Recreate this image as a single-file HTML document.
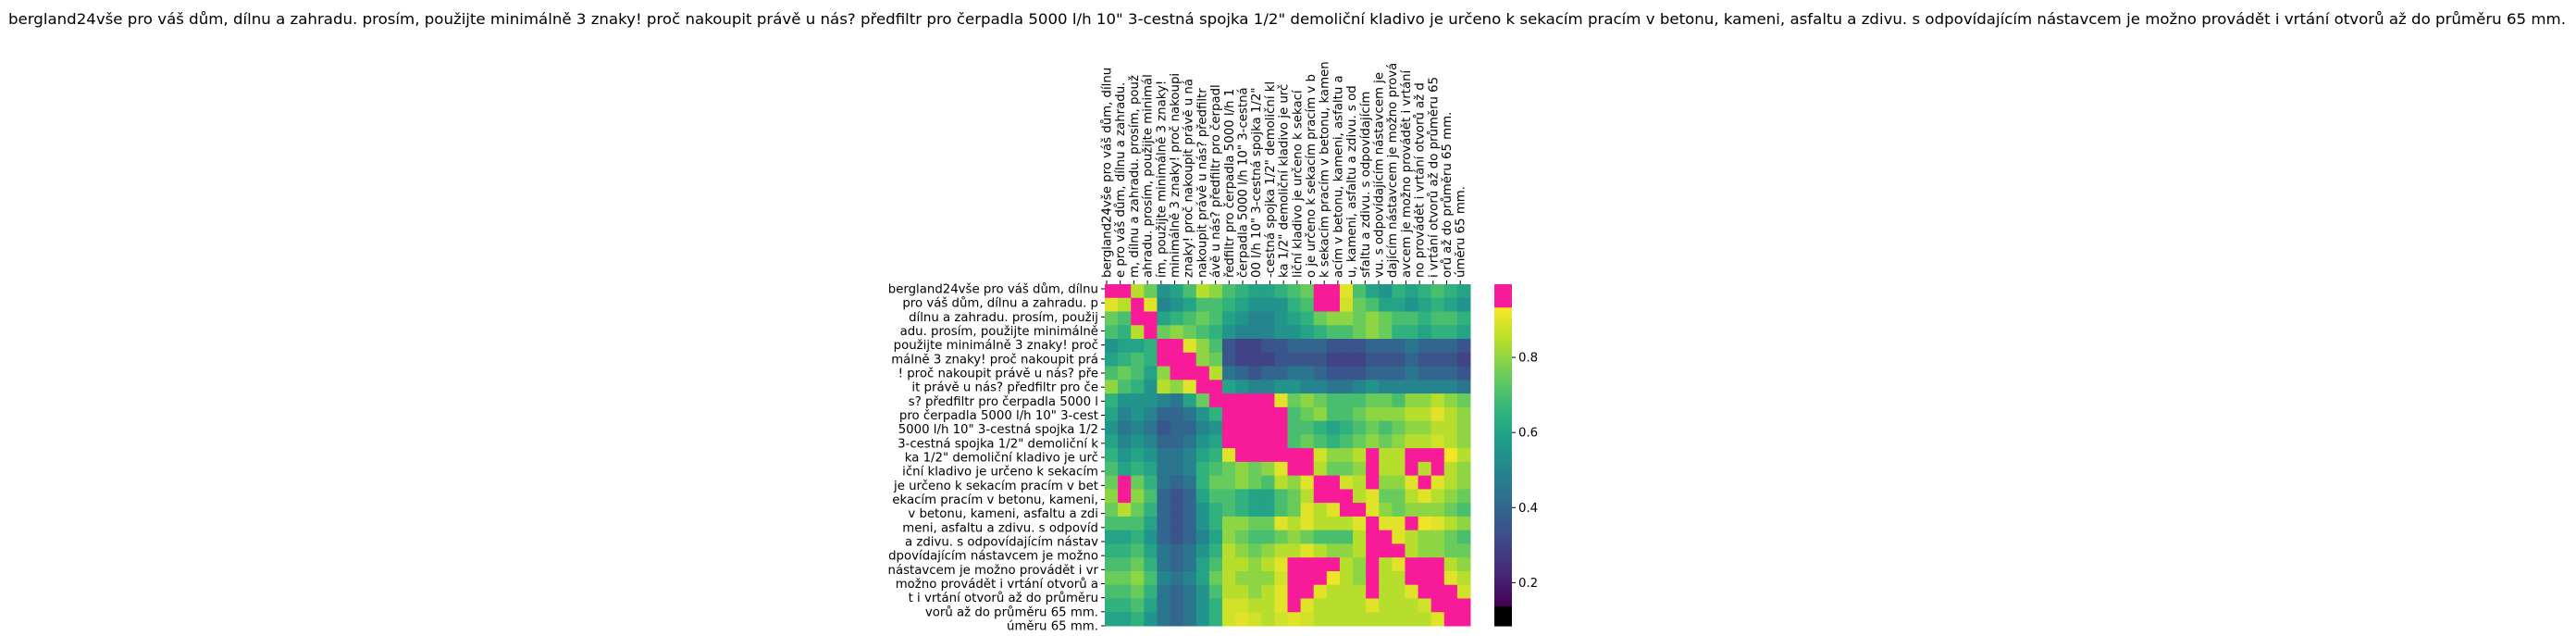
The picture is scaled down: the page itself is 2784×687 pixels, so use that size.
<!DOCTYPE html>
<html><head><meta charset="utf-8"><style>
html,body{margin:0;padding:0;background:#fff;}
svg{display:block;font-family:"DejaVu Sans","Liberation Sans",sans-serif;}
</style></head><body>
<svg id="chart" width="2784" height="687" viewBox="0 0 2784 687" xmlns="http://www.w3.org/2000/svg">
<text x="9" y="26" font-size="16" textLength="2764" lengthAdjust="spacingAndGlyphs">bergland24vše pro váš dům, dílnu a zahradu. prosím, použijte minimálně 3 znaky! proč nakoupit právě u nás? předfiltr pro čerpadla 5000 l/h 10" 3-cestná spojka 1/2" demoliční kladivo je určeno k sekacím pracím v betonu, kameni, asfaltu a zdivu. s odpovídajícím nástavcem je možno provádět i vrtání otvorů až do průměru 65 mm.</text>
<g id="cells"></g>
<g id="rowlabels"></g>
<g id="collabels"></g>
<g id="cbar"></g>
</svg>
<script>
const rowLabels = ["bergland24vše pro váš dům, dílnu","pro váš dům, dílnu a zahradu. p","dílnu a zahradu. prosím, použij","adu. prosím, použijte minimálně ","použijte minimálně 3 znaky! proč","málně 3 znaky! proč nakoupit prá","! proč nakoupit právě u nás? pře","it právě u nás? předfiltr pro če","s? předfiltr pro čerpadla 5000 l","pro čerpadla 5000 l/h 10\" 3-cest","5000 l/h 10\" 3-cestná spojka 1/2","3-cestná spojka 1/2\" demoliční k","ka 1/2\" demoliční kladivo je urč","iční kladivo je určeno k sekacím","je určeno k sekacím pracím v bet","ekacím pracím v betonu, kameni, ","v betonu, kameni, asfaltu a zdi","meni, asfaltu a zdivu. s odpovíd","a zdivu. s odpovídajícím nástav","dpovídajícím nástavcem je možno ","nástavcem je možno provádět i vr","možno provádět i vrtání otvorů a","t i vrtání otvorů až do průměru ","vorů až do průměru 65 mm.      ","úměru 65 mm.             "];
const colLabels = ["bergland24vše pro váš dům, dílnu","e pro váš dům, dílnu a zahradu.","m, dílnu a zahradu. prosím, použ","ahradu. prosím, použijte minimál","ím, použijte minimálně 3 znaky!","minimálně 3 znaky! proč nakoupi","znaky! proč nakoupit právě u ná","nakoupit právě u nás? předfiltr","ávě u nás? předfiltr pro čerpadl","ředfiltr pro čerpadla 5000 l/h 1","čerpadla 5000 l/h 10\" 3-cestná","00 l/h 10\" 3-cestná spojka 1/2\"","-cestná spojka 1/2\" demoliční kl","ka 1/2\" demoliční kladivo je urč","liční kladivo je určeno k sekací","o je určeno k sekacím pracím v b","k sekacím pracím v betonu, kamen","acím v betonu, kameni, asfaltu a","u, kameni, asfaltu a zdivu. s od","sfaltu a zdivu. s odpovídajícím","vu. s odpovídajícím nástavcem je","dajícím nástavcem je možno prová","avcem je možno provádět i vrtání","no provádět i vrtání otvorů až d","i vrtání otvorů až do průměru 65","orů až do průměru 65 mm.","úměru 65 mm."];
const cbTicks = [0.2,0.4,0.6,0.8];
const m0=[.97,.97,.85,.75,.55,.6,.7,.85,.8,.7,.65,.6,.6,.65,.7,.75,.95,.96,.9,.7,.6,.55,.65,.6,.65,.7,.65,.6];
const m1=[.9,.85,.97,.9,.5,.55,.6,.7,.7,.65,.6,.55,.55,.55,.65,.7,.95,.96,.88,.75,.7,.6,.6,.55,.6,.65,.6,.55];
const m2=[.75,.7,.97,.97,.6,.65,.7,.75,.7,.6,.55,.5,.5,.55,.6,.65,.75,.8,.8,.75,.8,.75,.7,.7,.65,.7,.7,.65];
const m3=[.7,.65,.85,.97,.75,.8,.75,.7,.65,.55,.5,.5,.5,.55,.55,.6,.65,.7,.7,.75,.8,.75,.65,.65,.6,.65,.65,.6];
const m4=[.55,.6,.6,.65,.97,.97,.9,.8,.7,.35,.3,.3,.35,.35,.4,.4,.4,.35,.35,.35,.4,.4,.4,.45,.4,.4,.4,.35];
const m5=[.6,.65,.7,.65,.95,.97,.97,.8,.75,.35,.3,.3,.3,.35,.35,.35,.35,.3,.3,.3,.35,.35,.35,.4,.35,.35,.35,.3];
const m6=[.7,.75,.7,.6,.8,.95,.97,.97,.85,.45,.4,.35,.4,.4,.45,.45,.4,.35,.35,.35,.4,.4,.4,.45,.4,.4,.4,.35];
const m7=[.8,.7,.65,.55,.85,.8,.9,.97,.97,.6,.55,.5,.5,.55,.55,.5,.5,.45,.45,.5,.55,.5,.5,.5,.5,.5,.5,.45];
const m8=[.65,.55,.55,.55,.5,.45,.6,.75,.95,.97,.97,.97,.97,.9,.75,.8,.75,.7,.7,.7,.75,.75,.7,.8,.8,.85,.8,.75];
const m9=[.6,.5,.55,.5,.4,.4,.45,.55,.65,.97,.97,.97,.97,.97,.7,.75,.8,.7,.7,.75,.8,.8,.8,.85,.85,.9,.85,.8];
const m10=[.55,.45,.5,.45,.35,.4,.4,.5,.55,.97,.97,.97,.97,.97,.7,.7,.65,.6,.65,.7,.75,.7,.75,.8,.8,.85,.85,.8];
const m11=[.6,.5,.55,.5,.4,.4,.45,.55,.6,.95,.97,.97,.97,.97,.7,.75,.7,.65,.7,.75,.8,.75,.8,.85,.85,.88,.85,.8];
const m12=[.65,.55,.6,.55,.45,.45,.5,.6,.65,.9,.97,.97,.97,.97,.97,.95,.88,.8,.8,.85,.95,.85,.85,.95,.95,.95,.92,.85];
const m13=[.7,.6,.65,.6,.45,.45,.5,.65,.7,.75,.8,.75,.8,.9,.95,.97,.85,.75,.75,.8,.95,.85,.85,.95,.85,.95,.85,.8];
const m14=[.75,.97,.75,.65,.45,.4,.45,.65,.75,.75,.8,.75,.7,.85,.8,.9,.97,.95,.88,.85,.95,.8,.8,.9,.97,.9,.85,.8];
const m15=[.8,.95,.8,.7,.4,.35,.4,.6,.7,.7,.65,.6,.6,.7,.75,.85,.95,.97,.97,.85,.9,.75,.75,.85,.9,.85,.8,.75];
const m16=[.75,.85,.75,.65,.4,.35,.4,.55,.65,.7,.65,.6,.6,.7,.75,.9,.85,.9,.97,.95,.9,.8,.75,.8,.8,.8,.75,.7];
const m17=[.7,.7,.7,.6,.4,.35,.4,.55,.65,.8,.8,.75,.75,.9,.85,.9,.85,.85,.85,.9,.95,.9,.9,.95,.92,.9,.85,.8];
const m18=[.6,.6,.65,.55,.4,.35,.4,.5,.6,.8,.75,.7,.7,.75,.8,.75,.7,.7,.7,.85,.97,.97,.9,.85,.8,.8,.75,.7];
const m19=[.65,.65,.7,.6,.45,.4,.45,.55,.65,.85,.8,.75,.8,.85,.85,.9,.85,.8,.8,.85,.97,.95,.97,.85,.8,.8,.75,.75];
const m20=[.7,.7,.75,.65,.45,.4,.45,.6,.7,.85,.85,.8,.85,.9,.95,.97,.97,.95,.85,.8,.95,.85,.9,.97,.97,.95,.85,.8];
const m21=[.75,.75,.8,.7,.5,.45,.5,.6,.75,.85,.8,.8,.8,.88,.95,.95,.97,.92,.85,.8,.95,.85,.85,.97,.97,.97,.9,.85];
const m22=[.7,.7,.75,.65,.45,.4,.45,.55,.7,.85,.85,.8,.85,.9,.95,.97,.9,.85,.85,.85,.95,.85,.85,.9,.97,.97,.97,.88];
const m23=[.65,.65,.7,.6,.45,.4,.45,.55,.65,.88,.88,.85,.85,.9,.95,.9,.85,.85,.85,.85,.9,.85,.85,.85,.88,.95,.97,.97];
const m24=[.6,.6,.65,.55,.45,.4,.45,.55,.65,.88,.9,.88,.85,.88,.9,.88,.85,.85,.85,.85,.85,.85,.85,.85,.85,.9,.95,.97];
const matrix=[m0,m1,m2,m3,m4,m5,m6,m7,m8,m9,m10,m11,m12,m13,m14,m15,m16,m17,m18,m19,m20,m21,m22,m23,m24];

const NS="http://www.w3.org/2000/svg";
const X0=1194,X1=1589,Y0=307,Y1=676;
const VMIN=0.14,VMAX=0.935,CBMIN=0.085,CBMAX=0.995;
const VIR=[[68,1,84],[72,40,120],[62,74,137],[49,104,142],[38,130,142],[31,158,137],[53,183,121],[109,205,89],[180,222,44],[253,231,37]];
function color(v){
  if(v>VMAX) return "#f71b9a";
  if(v<VMIN) return "#000000";
  let t=(v-VMIN)/(VMAX-VMIN)*(VIR.length-1);
  let i=Math.min(Math.floor(t),VIR.length-2),f=t-i;
  const c=VIR[i].map((a,k)=>Math.round(a+(VIR[i+1][k]-a)*f));
  return `rgb(${c[0]},${c[1]},${c[2]})`;
}
function mk(tag,attrs,parent){const e=document.createElementNS(NS,tag);for(const k in attrs)e.setAttribute(k,attrs[k]);parent.appendChild(e);return e;}
const nR=matrix.length,nC=matrix[0].length;
const xs=j=>X0+j*(X1-X0)/nC, ys=i=>Y0+i*(Y1-Y0)/nR;
const cells=document.getElementById('cells');
matrix.forEach((row,i)=>row.forEach((v,j)=>{
  const r=mk('rect',{x:xs(j),y:ys(i),width:(X1-X0)/nC+0.5,height:(Y1-Y0)/nR+0.5,fill:color(v)},cells);
  
  
}));
const rl=document.getElementById('rowlabels');
const rStep=(Y1-Y0-5)/(rowLabels.length-1);
rowLabels.forEach((t,i)=>{
  const y=Y0+5+i*rStep;
  mk('line',{x1:X0-4,x2:X0,y1:y,y2:y,stroke:'#000','stroke-width':1},rl);
  const e=mk('text',{x:X0-7,y:y+4.5,'font-size':13.3,'text-anchor':'end','xml:space':'preserve'},rl);
  e.textContent=t;
  
  
});
const cl=document.getElementById('collabels');
const cStep=14.7;
colLabels.forEach((t,j)=>{
  const x=X0+2+j*cStep;
  mk('line',{x1:x,x2:x,y1:Y0-4,y2:Y0,stroke:'#000','stroke-width':1},cl);
  const e=mk('text',{x:0,y:0,'font-size':13.3,transform:`translate(${x+4.5},${Y0-7}) rotate(-90)`},cl);
  e.textContent=t;
  
  
});
const cb=document.getElementById('cbar');
const CX=1615,CW=19;
const cy=v=>Y1-(v-CBMIN)/(CBMAX-CBMIN)*(Y1-Y0);
const N=120;
for(let k=0;k<N;k++){
  const v0=CBMIN+(CBMAX-CBMIN)*k/N,v1=CBMIN+(CBMAX-CBMIN)*(k+1)/N;
  const r=mk('rect',{x:CX,y:cy(v1),width:CW,height:cy(v0)-cy(v1)+0.6,fill:color((v0+v1)/2)},cb);
  
  
}
cbTicks.forEach(v=>{
  const y=cy(v);
  mk('line',{x1:CX+CW,x2:CX+CW+4,y1:y,y2:y,stroke:'#000','stroke-width':1},cb);
  const e=mk('text',{x:CX+CW+7,y:y+4.5,'font-size':13.3},cb);
  e.textContent=v.toFixed(1);
  
  
});
</script>
</body></html>
